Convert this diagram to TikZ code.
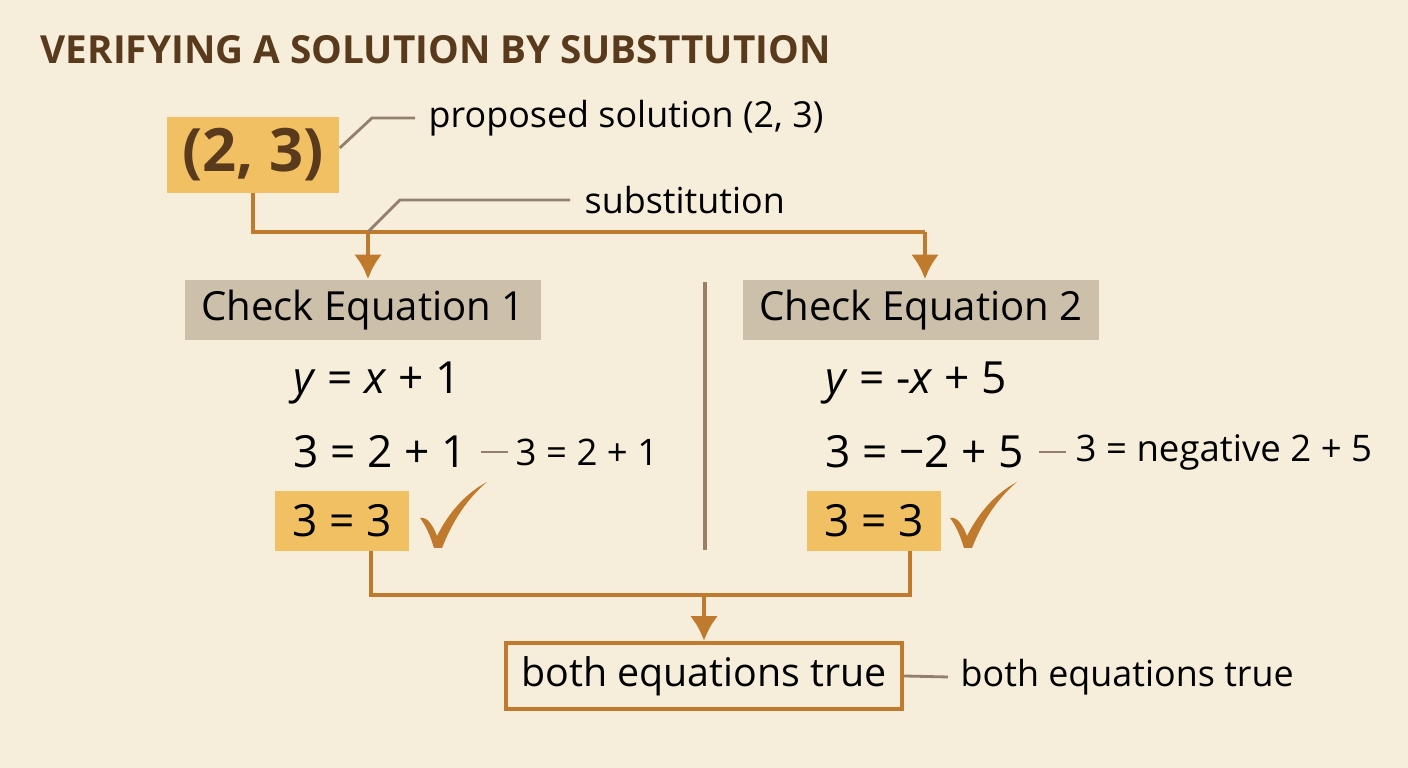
\documentclass[tikz,border=0pt]{standalone}
\usepackage{fontspec}
\setmainfont{Open Sans}
\usetikzlibrary{arrows.meta}
\definecolor{bg}{HTML}{F6EEDA}
\definecolor{yellowbox}{HTML}{F0C062}
\definecolor{tanbox}{HTML}{CCC0AA}
\definecolor{titlec}{HTML}{5A3A1C}
\definecolor{ora}{HTML}{C07A2E}
\begin{document}
\begin{tikzpicture}[x=0.01cm,y=-0.01cm, every node/.style={inner sep=0pt},
  line/.style={draw=ora, line width=1.4pt},
  lead/.style={draw=gray!70!brown, line width=0.8pt},
  eq/.style={anchor=west, font=\fontsize{12.6}{15}\selectfont, text=black},
  note/.style={anchor=west, font=\fontsize{10.4}{13}\selectfont, text=black},
  lbl/.style={anchor=west, font=\fontsize{10.2}{13}\selectfont, text=black},
  hdr/.style={fill=tanbox, minimum width=3.55cm, minimum height=0.6cm, font=\fontsize{11.4}{14}\selectfont},
  res/.style={fill=yellowbox, minimum width=1.34cm, minimum height=0.59cm, font=\fontsize{12.6}{15}\selectfont}]
\fill[bg] (0,0) rectangle (1408,768);
\useasboundingbox (0,0) rectangle (1408,768);
\node[anchor=west, font=\bfseries\fontsize{11}{14}\selectfont, text=titlec] (title) at (40,50) {VERIFYING A SOLUTION BY SUBSTTUTION};
% top box
\node[fill=yellowbox, minimum width=1.72cm, minimum height=0.75cm, font=\bfseries\fontsize{17}{20}\selectfont, text=titlec] (pt) at (253,155) {(2, 3)};
\coordinate (l1a) at (372,118); \coordinate (l1b) at (415,118);
\draw[lead] (pt.east) ++(0,-7) -- (l1a) -- (l1b);
\node[lbl] (prop) at (428,118) {proposed solution (2, 3)};
% headers
\node[hdr] (h1) at (363,310) {Check Equation 1};
\node[hdr] (h2) at (921,310) {Check Equation 2};
\coordinate (j) at (253,232); \coordinate (jl) at (368,232); \coordinate (jr) at (925,232);
\draw[line] (pt.south) -- (j) -- (jr);
\draw[line, -{Latex[length=7pt,width=8pt]}] (jl) -- (jl |- h1.north);
\draw[line, -{Latex[length=7pt,width=8pt]}] (jr) -- (jr |- h2.north);
\coordinate (s1) at (400,200); \coordinate (s2) at (570,200);
\draw[lead] (jl) -- (s1) -- (s2);
\node[lbl] (sub) at (584,200) {substitution};
% separator
\coordinate (v1) at (705,282); \coordinate (v2) at (705,550);
\draw[draw=gray!60!brown, line width=0.9pt] (v1) -- (v2);
% left equations
\node[eq] (e11) at (293,383) {\textit{y} = \textit{x} + 1};
\node[eq] (e12) at (293,452) {3 = 2 + 1};
\coordinate (n1) at (508,452);
\draw[lead] ([xshift=4]e12.east) -- (n1);
\node[note] (n1t) at (515,452) {3 = 2 + 1};
\node[res] (r1) at (342,521) {3 = 3};
% right equations
\node[eq] (e21) at (825,383) {\textit{y} = -\textit{x} + 5};
\node[eq] (e22) at (825,452) {3 = −2 + 5};
\coordinate (n2) at (1066,452);
\draw[lead] ([xshift=4]e22.east) -- (n2);
\node[note] (n2t) at (1075,452) {3 = negative 2 + 5};
\node[res] (r2) at (874,521) {3 = 3};
% checks
\foreach \cx in {420,950}{
  \fill[ora] (\cx,518) .. controls (\cx+8,516) and (\cx+14,528) .. (\cx+17,536)
     .. controls (\cx+30,510) and (\cx+48,492) .. (\cx+67,482)
     .. controls (\cx+48,498) and (\cx+33,520) .. (\cx+22,548)
     -- (\cx+14,548) .. controls (\cx+10,535) and (\cx+6,526) .. (\cx,518) -- cycle;
}
% bottom
\node[draw=ora, line width=1.2pt, fill=bg, minimum width=3.96cm, minimum height=0.66cm, font=\fontsize{11.2}{14}\selectfont] (both) at (704,676) {both equations true};
\coordinate (m1) at (371,595); \coordinate (m2) at (910,595); \coordinate (mm) at (704,595);
\draw[line] (r1.south -| m1) -- (m1) -- (m2) -- (r2.south -| m2);
\draw[line, -{Latex[length=7pt,width=8pt]}] (mm) -- (both.north);
\coordinate (n3) at (948,677);
\draw[lead] (both.east) -- (n3);
\node[lbl] (n3t) at (960,677) {both equations true};
\end{tikzpicture}
\end{document}
